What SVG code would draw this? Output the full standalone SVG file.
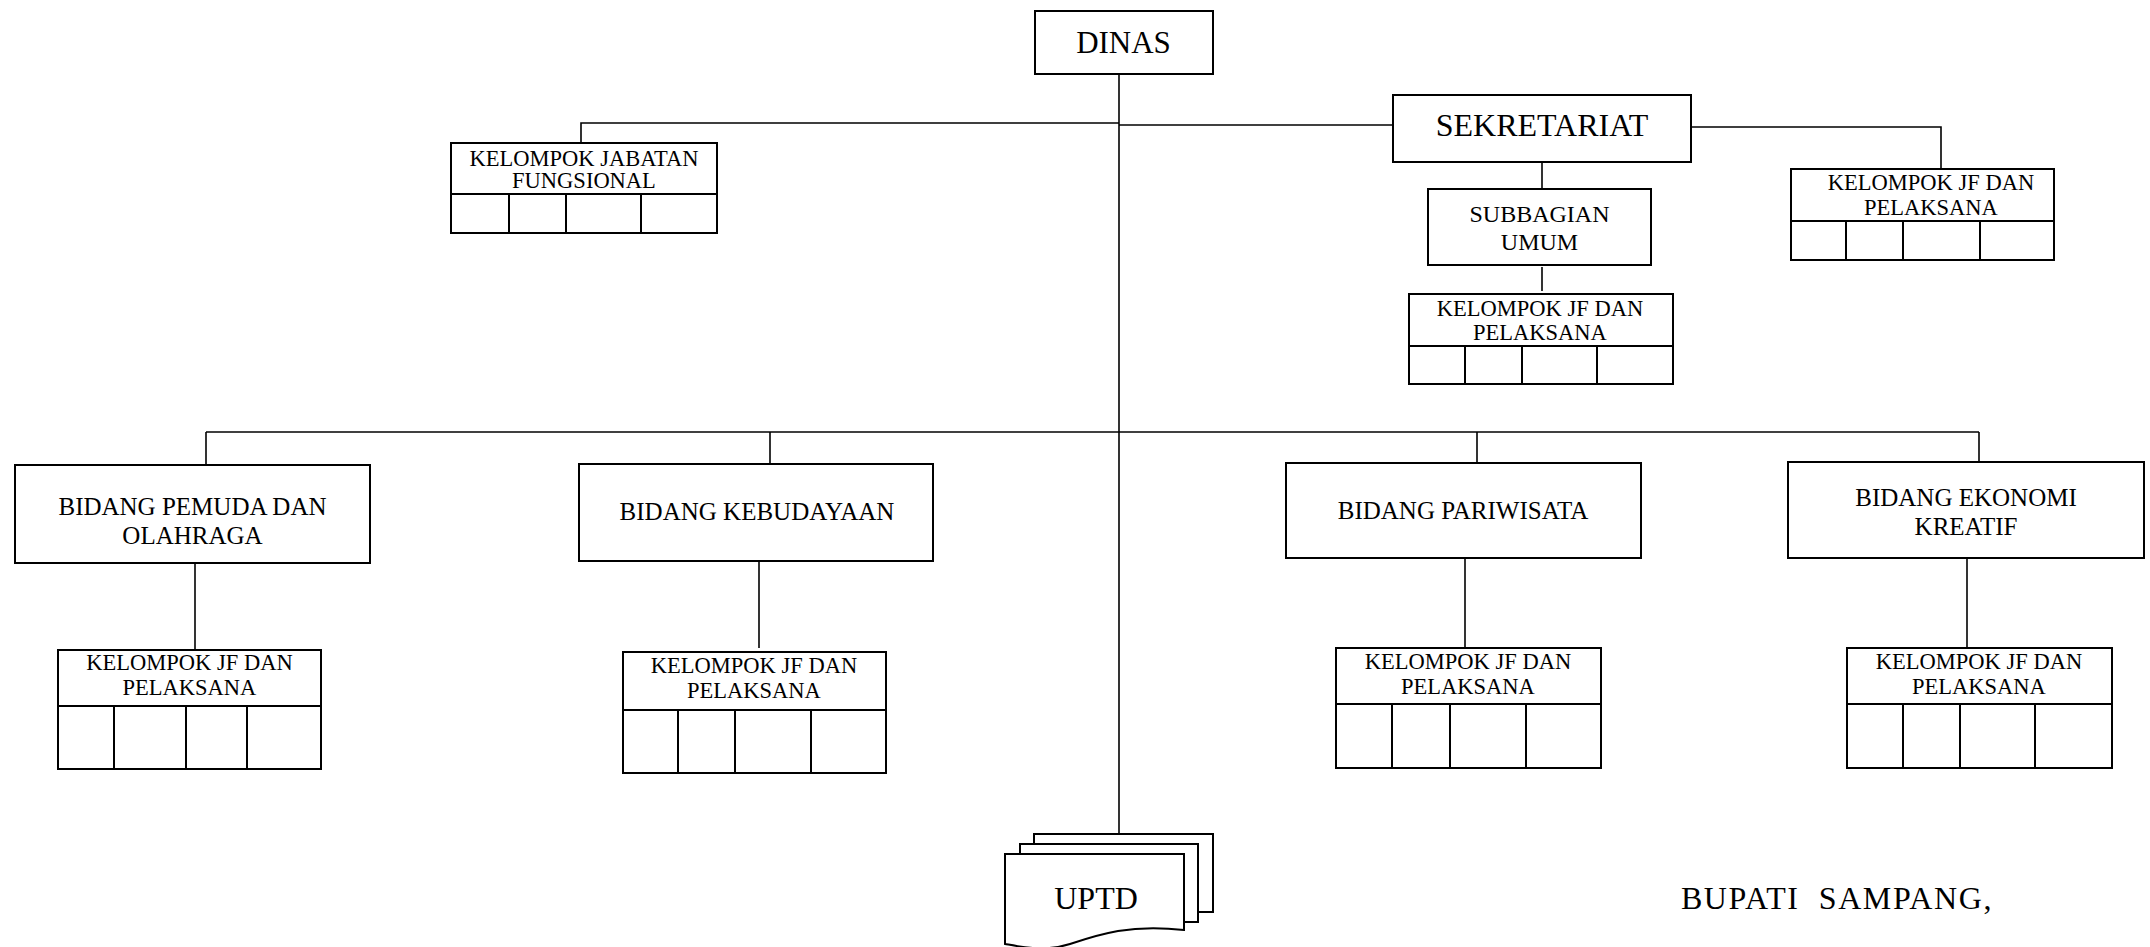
<svg xmlns="http://www.w3.org/2000/svg" width="2150" height="947" viewBox="0 0 2150 947">
<style>
  .box { fill: #ffffff; stroke: #000000; stroke-width: 2; }
  .div { fill: none; stroke: #000000; stroke-width: 2; }
  .con { fill: none; stroke: #000000; stroke-width: 1.6; }
  text { font-family: "Liberation Serif", "Times New Roman", serif; fill: #000000; text-anchor: middle; }
  .t31 { font-size: 31px; }
  .t32 { font-size: 32px; }
  .t25 { font-size: 25px; }
  .t24 { font-size: 24px; }
  .t22 { font-size: 22.5px; }
</style>
<rect x="0" y="0" width="2150" height="947" fill="#ffffff"/>

<g id="connectors">
  <path class="con" d="M1119,74 V834"/>
  <path class="con" d="M1119,123 H581 V143"/>
  <path class="con" d="M1119,125 H1393"/>
  <path class="con" d="M1691,127 H1941 V169"/>
  <path class="con" d="M1542,162 V189"/>
  <path class="con" d="M1542,267 V291"/>
  <path class="con" d="M206,432 H1979"/>
  <path class="con" d="M206,432 V465"/>
  <path class="con" d="M770,432 V464"/>
  <path class="con" d="M1477,432 V463"/>
  <path class="con" d="M1979,432 V462"/>
  <path class="con" d="M195,563 V650"/>
  <path class="con" d="M759,561 V648"/>
  <path class="con" d="M1465,558 V648"/>
  <path class="con" d="M1967,558 V648"/>
</g>

<g id="dinas">
  <rect class="box" x="1035" y="11" width="178" height="63"/>
  <text class="t31" x="1123.5" y="53">DINAS</text>
</g>

<g id="sekretariat">
  <rect class="box" x="1393" y="95" width="298" height="67"/>
  <text class="t32" x="1542" y="136">SEKRETARIAT</text>
</g>

<g id="subbagian-umum">
  <rect class="box" x="1428" y="189" width="223" height="76"/>
  <text class="t24" x="1539.5" y="222">SUBBAGIAN</text>
  <text class="t24" x="1539.5" y="250">UMUM</text>
</g>

<g id="kjf-fungsional">
  <rect class="box" x="451" y="143" width="266" height="90"/>
  <path class="div" d="M451,194 H717 M509,194 V233 M566,194 V233 M641,194 V233"/>
  <text class="t22" x="584" y="166">KELOMPOK JABATAN</text>
  <text class="t22" x="584" y="188">FUNGSIONAL</text>
</g>

<g id="kjf-sekretariat">
  <rect class="box" x="1791" y="169" width="263" height="91"/>
  <path class="div" d="M1791,221 H2054 M1846,221 V260 M1903,221 V260 M1980,221 V260"/>
  <text class="t22" x="1931" y="190">KELOMPOK JF DAN</text>
  <text class="t22" x="1931" y="215">PELAKSANA</text>
</g>

<g id="kjf-subbagian">
  <rect class="box" x="1409" y="294" width="264" height="90"/>
  <path class="div" d="M1409,346 H1673 M1465,346 V384 M1522,346 V384 M1597,346 V384"/>
  <text class="t22" x="1540" y="316">KELOMPOK JF DAN</text>
  <text class="t22" x="1540" y="340">PELAKSANA</text>
</g>

<g id="bidang-pemuda">
  <rect class="box" x="15" y="465" width="355" height="98"/>
  <text class="t25" x="192.5" y="515">BIDANG PEMUDA DAN</text>
  <text class="t25" x="192.5" y="544">OLAHRAGA</text>
</g>

<g id="kjf-pemuda">
  <rect class="box" x="58" y="650" width="263" height="119"/>
  <path class="div" d="M58,706 H321 M114,706 V769 M186,706 V769 M247,706 V769"/>
  <text class="t22" x="189.5" y="670">KELOMPOK JF DAN</text>
  <text class="t22" x="189.5" y="695">PELAKSANA</text>
</g>

<g id="bidang-kebudayaan">
  <rect class="box" x="579" y="464" width="354" height="97"/>
  <text class="t25" x="757" y="520">BIDANG KEBUDAYAAN</text>
</g>

<g id="kjf-kebudayaan">
  <rect class="box" x="623" y="652" width="263" height="121"/>
  <path class="div" d="M623,710 H886 M678,710 V773 M735,710 V773 M811,710 V773"/>
  <text class="t22" x="754" y="673">KELOMPOK JF DAN</text>
  <text class="t22" x="754" y="698">PELAKSANA</text>
</g>

<g id="bidang-pariwisata">
  <rect class="box" x="1286" y="463" width="355" height="95"/>
  <text class="t25" x="1463" y="519">BIDANG PARIWISATA</text>
</g>

<g id="kjf-pariwisata">
  <rect class="box" x="1336" y="648" width="265" height="120"/>
  <path class="div" d="M1336,704 H1601 M1392,704 V768 M1450,704 V768 M1526,704 V768"/>
  <text class="t22" x="1468" y="669">KELOMPOK JF DAN</text>
  <text class="t22" x="1468" y="694">PELAKSANA</text>
</g>

<g id="bidang-ekonomi-kreatif">
  <rect class="box" x="1788" y="462" width="356" height="96"/>
  <text class="t25" x="1966" y="506">BIDANG EKONOMI</text>
  <text class="t25" x="1966" y="535">KREATIF</text>
</g>

<g id="kjf-ekonomi-kreatif">
  <rect class="box" x="1847" y="648" width="265" height="120"/>
  <path class="div" d="M1847,704 H2112 M1903,704 V768 M1960,704 V768 M2035,704 V768"/>
  <text class="t22" x="1979" y="669">KELOMPOK JF DAN</text>
  <text class="t22" x="1979" y="694">PELAKSANA</text>
</g>

<g id="uptd">
  <rect class="box" x="1034" y="834" width="179" height="78"/>
  <rect class="box" x="1020" y="844" width="178" height="78"/>
  <path class="box" d="M1005,854 H1184 V930 C1130,924 1100,934 1070,944 C1045,952 1022,947 1005,944 Z"/>
  <text class="t32" x="1096" y="909">UPTD</text>
</g>

<g id="bupati">
  <text class="t32" x="1837" y="909" style="white-space:pre; letter-spacing:1.6px">BUPATI  SAMPANG,</text>
</g>
</svg>
